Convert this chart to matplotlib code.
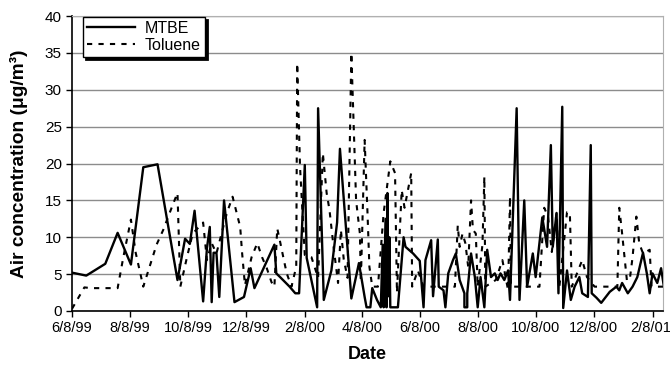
import matplotlib
matplotlib.use('Agg')
import matplotlib.pyplot as plt
import matplotlib.transforms as mtransforms
import numpy as np
import pandas as pd

plt.rcParams['font.family'] = ['Liberation Sans Narrow', 'Liberation Sans', 'DejaVu Sans']

start = pd.Timestamp('1999-06-08')

# sampling day (days since 6/8/99) and concentration, ug/m3
mtbe_day = [0, 15, 35, 48, 62, 75, 90, 111, 119, 124, 129, 138, 142, 145, 147, 149, 152, 155,
            160, 171, 181, 188, 192, 213, 215, 219, 229, 235, 239, 245, 247, 258, 259, 265,
            273, 279, 282, 294, 302, 308, 310, 314, 316, 321, 325, 327, 328, 330, 331, 332,
            333, 334, 335, 343, 349, 351, 359, 366, 370, 372, 378, 380, 385, 386, 391, 393,
            396, 401, 404, 408, 413, 413, 416, 416, 420, 424, 427, 430, 434, 437, 441, 445,
            448, 451, 455, 459, 461, 468, 471, 476, 479, 485, 488, 495, 500, 504, 506, 510,
            512, 516, 517, 521, 525, 529, 534, 537, 543, 546, 547, 552, 557, 566, 573, 576,
            579, 585, 590, 595, 601, 605, 608, 611, 616, 620, 623]
mtbe_val = [5.2, 4.8, 6.4, 10.6, 6.3, 19.5, 19.9, 4.2, 9.8, 9.1, 13.6, 1.3, 8.5, 11.4, 1.2, 7.9,
            7.9, 1.9, 15.0, 1.2, 1.9, 5.8, 3.1, 9.0, 5.1, 4.6, 3.3, 2.4, 2.4, 19.8, 7.2, 0.5,
            27.5, 1.5, 5.5, 12.0, 22.0, 1.7, 6.5, 1.9, 0.5, 0.5, 3.1, 1.5, 0.5, 9.0, 0.5, 12.5,
            0.5, 16.0, 2.0, 10.0, 0.5, 0.5, 10.0, 8.7, 7.8, 6.8, 0.5, 6.9, 9.6, 2.0, 9.7, 3.3,
            2.8, 0.5, 5.1, 6.9, 7.8, 4.2, 2.4, 0.5, 0.5, 2.4, 7.8, 4.6, 0.5, 4.6, 0.5, 8.3,
            4.6, 5.1, 4.2, 5.1, 4.2, 5.5, 1.5, 27.5, 1.5, 15.0, 3.3, 7.8, 4.6, 12.7, 8.7, 22.5,
            8.7, 13.3, 2.4, 27.7, 0.4, 5.5, 1.5, 3.3, 4.6, 2.4, 1.9, 22.5, 2.4, 1.8, 1.1, 2.6,
            3.3, 2.8, 3.8, 2.4, 3.3, 4.6, 7.9, 5.1, 2.4, 5.1, 3.8, 5.8, 3.3]

tol_day = [0, 13, 20, 48, 54, 62, 67, 75, 89, 96, 106, 111, 114, 121, 127, 138, 142, 147, 152,
           163, 169, 177, 179, 182, 189, 195, 200, 205, 210, 213, 216, 219, 223, 226, 231, 236,
           237, 240, 245, 252, 259, 264, 268, 271, 275, 280, 283, 286, 290, 294, 299, 303, 304,
           308, 311, 313, 316, 322, 328, 335, 340, 342, 347, 350, 357, 358, 364, 370, 403, 406,
           408, 411, 414, 417, 420, 422, 425, 427, 432, 434, 435, 446, 453, 459, 461, 462, 476,
           492, 497, 501, 505, 510, 513, 521, 524, 526, 537, 542, 550, 574, 576, 579, 584, 587,
           590, 594, 597, 601, 608, 610, 622]
tol_val = [0.3, 3.2, 3.1, 3.1, 7.3, 12.4, 7.9, 3.3, 9.0, 11.0, 14.4, 16.0, 3.3, 7.3, 10.5, 12.0,
           6.9, 9.2, 7.8, 13.3, 15.5, 11.4, 7.9, 3.5, 7.3, 9.2, 7.3, 5.8, 3.9, 3.3, 11.2, 9.4,
           6.9, 5.1, 3.3, 6.0, 33.6, 19.5, 7.6, 7.3, 4.5, 21.4, 16.0, 13.7, 9.0, 3.8, 11.0, 7.0,
           4.5, 35.0, 15.0, 10.5, 4.0, 23.2, 13.3, 6.0, 3.3, 3.3, 13.3, 20.3, 18.7, 2.5, 16.4,
           14.0, 18.7, 3.3, 5.5, 3.3, 3.3, 11.6, 8.7, 10.5, 9.2, 6.0, 15.0, 11.0, 10.5, 3.3, 9.0,
           18.2, 3.3, 4.2, 6.9, 2.8, 15.5, 3.3, 3.3, 3.3, 14.0, 12.8, 8.0, 13.3, 3.3, 13.4, 13.3,
           3.3, 6.9, 4.6, 3.3, 3.3, 14.0, 10.5, 4.2, 4.2, 7.3, 12.8, 9.2, 7.8, 8.3, 3.3, 3.3]

tick_dates = pd.to_datetime(['1999-06-08', '1999-08-08', '1999-10-08', '1999-12-08',
                             '2000-02-08', '2000-04-08', '2000-06-08', '2000-08-08',
                             '2000-10-08', '2000-12-08', '2001-02-08'])
tick_labels = [f'{d.month}/{d.day}/{d:%y}' for d in tick_dates]

mtbe_x = start + pd.to_timedelta(mtbe_day, unit='D')
tol_x = start + pd.to_timedelta(tol_day, unit='D')

fig = plt.figure(figsize=(6.7, 3.7), dpi=100)
ax = fig.add_axes([0.1075, 0.1595, 0.882, 0.797])

ax.plot(mtbe_x, mtbe_val, '-', color='black', lw=1.7, label='MTBE', zorder=3)
ax.plot(tol_x, tol_val, color='black', lw=1.5, ls=(0, (2.5, 3.0)), label='Toluene', zorder=2)

ax.set_ylim(0, 40)
ax.set_yticks(np.arange(0, 41, 5))
ax.set_xlim(start, start + pd.Timedelta(days=622))
ax.set_xticks(tick_dates)
ax.set_xticklabels(tick_labels)

ax.yaxis.grid(True, color='#8c8c8c', lw=1.0)
ax.set_axisbelow(True)
for s in ['top', 'right']:
    ax.spines[s].set_color('#b0b0b0')
    ax.spines[s].set_linewidth(0.8)
for s in ['left', 'bottom']:
    ax.spines[s].set_linewidth(1.2)

ax.tick_params(axis='x', direction='out', length=4.3, width=1, labelsize=10.5, pad=3)
ax.tick_params(axis='y', direction='out', length=4.3, width=1, labelsize=11, pad=3)

# keep the last date label inside the figure
last = ax.get_xticklabels()[-1]
last.set_transform(last.get_transform() +
                   mtransforms.ScaledTranslation(-2 / 100, 0, fig.dpi_scale_trans))

ax.set_xlabel('Date', fontsize=13, fontweight='bold', labelpad=8)
ax.set_ylabel('Air concentration (\u03bcg/m\u00b3)', fontsize=13.8, fontweight='bold', labelpad=12)

leg = ax.legend(loc='upper left', bbox_to_anchor=(0.0186, 0.997), borderaxespad=0,
                fancybox=False, shadow={'color': 'black', 'alpha': 1, 'lw': 2},
                framealpha=1, edgecolor='black', fontsize=11.5, handlelength=3.0,
                handletextpad=0.6, borderpad=0.25, labelspacing=0.1)
leg.get_frame().set_linewidth(1.0)

fig.savefig('out.png', dpi=100)
